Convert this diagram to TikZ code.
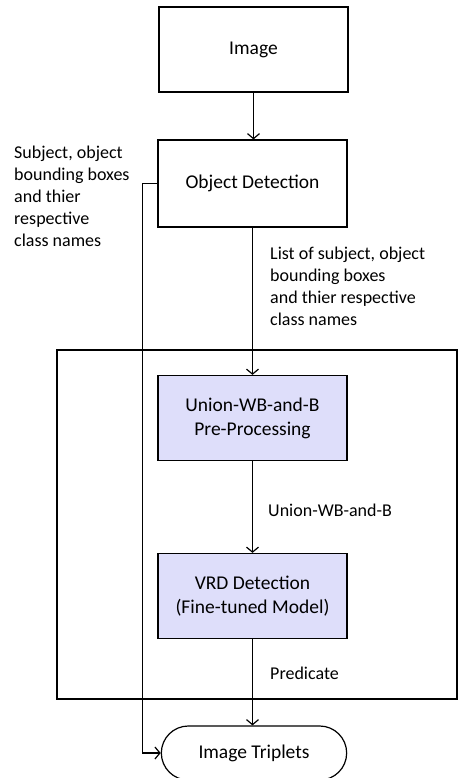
\documentclass[tikz,border=0pt]{standalone}
\usepackage{fontspec}
\setmainfont{Carlito}
\usetikzlibrary{arrows.meta,shapes.misc}
\definecolor{stagefill}{RGB}{222,222,250}
\begin{document}
\begin{tikzpicture}[x=1pt,y=-1pt,
  font=\fontsize{18}{22}\selectfont,
  block/.style={rectangle, draw=black, line width=1.2pt, minimum width=189pt, minimum height=85pt, align=center, font=\fontsize{19.5}{24}\selectfont},
  stage/.style={block, fill=stagefill},
  note/.style={anchor=west, align=left, inner sep=0pt},
  flow/.style={line width=1.2pt, -{Straight Barb[length=5pt,width=12pt,line width=1.2pt]}}]
\useasboundingbox (0,0) rectangle (475,778);
\node [block] (img) at (253.5,49.5) {Image};
\node [block, minimum height=87pt] (det) at (252.5,183.5) {Object Detection};
\node [rectangle, draw=black, line width=1.2pt, minimum width=400pt, minimum height=349pt] (frame) at (257,524.5) {};
\node [stage] (union) at (252.5,418) {Union-WB-and-B\\Pre-Processing};
\node [stage] (vrd) at (252.5,596) {VRD Detection\\(Fine-tuned Model)};
\node [rounded rectangle, draw=black, line width=1.2pt, minimum width=192pt, minimum height=54pt, font=\fontsize{19.5}{24}\selectfont] (trip) at (254,753) {Image Triplets};
\node [note] (lblsubj) at (14,196) {Subject, object\\bounding boxes\\and thier\\respective\\class names};
\node [note] (lbllist) at (270,286) {List of subject, object\\bounding boxes\\and thier respective\\class names};
\node [note] (lblunion) at (268,510) {Union-WB-and-B};
\node [note] (lblpred) at (270,673) {Predicate};
\draw [flow] (img.south) -- (img.south |- det.north);
\draw [flow] (det.south) -- (det.south |- union.north);
\draw [flow] (union.south) -- (vrd.north);
\draw [flow] (vrd.south) -- (vrd.south |- trip.north);
\draw [flow] (det.west) -- ++(-15,0) |- (trip.west);
\end{tikzpicture}
\end{document}
